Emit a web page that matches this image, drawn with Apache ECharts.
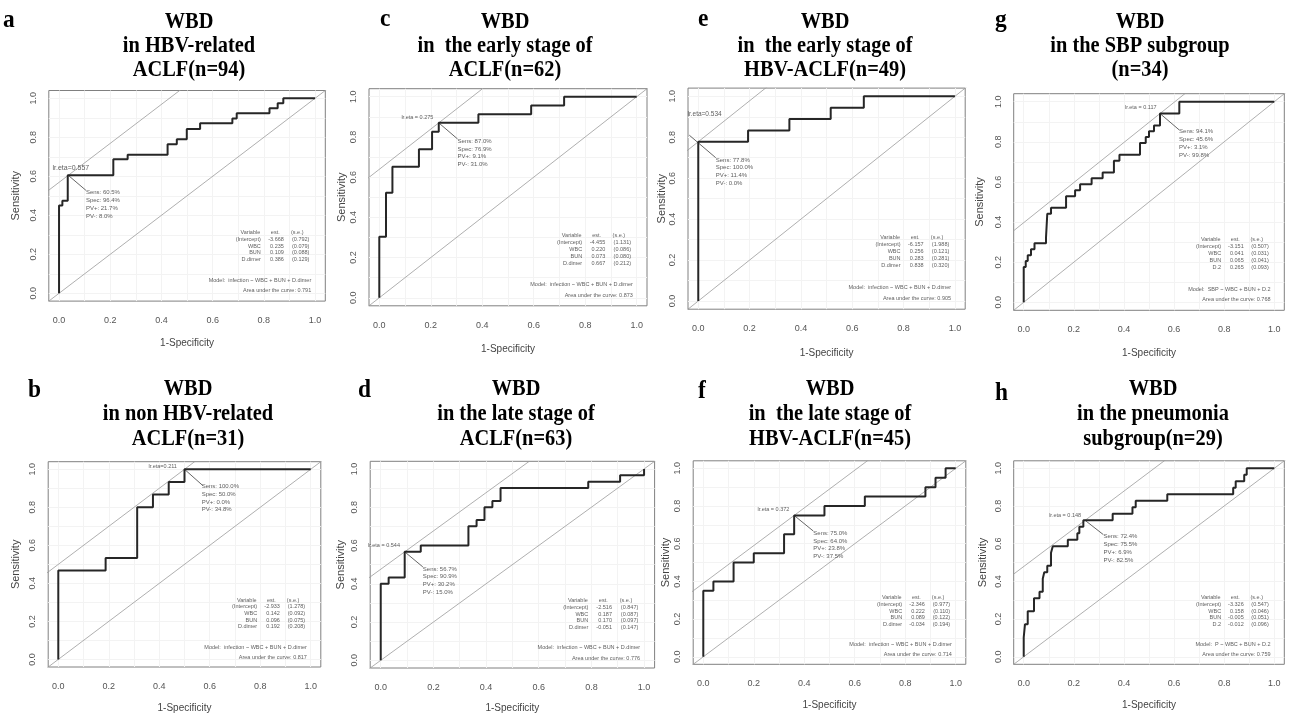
<!DOCTYPE html>
<html lang="en">
<head>
<meta charset="UTF-8">
<title>WBD ROC curves</title>
<style>
  body { margin: 0; background: #fff; }
  #chart { width: 1295px; height: 714px; }
</style>
</head>
<body>
<div id="chart"></div>
<script src="https://cdn.jsdelivr.net/npm/echarts@6/dist/echarts.min.js"></script>
<script>
// ---- data ----
const panelLetters = ['a', 'b', 'c', 'd', 'e', 'f', 'g', 'h'];
const titles = [
  ['WBD', 'in HBV-related', 'ACLF(n=94)'],
  ['WBD', 'in non HBV-related', 'ACLF(n=31)'],
  ['WBD', 'in  the early stage of', 'ACLF(n=62)'],
  ['WBD', 'in the late stage of', 'ACLF(n=63)'],
  ['WBD', 'in  the early stage of', 'HBV-ACLF(n=49)'],
  ['WBD', 'in  the late stage of', 'HBV-ACLF(n=45)'],
  ['WBD', 'in the SBP subgroup', '(n=34)'],
  ['WBD', 'in the pneumonia', 'subgroup(n=29)']
];
const tickVals = [0, 0.2, 0.4, 0.6, 0.8, 1.0];
const tickLabels = ['0.0', '0.2', '0.4', '0.6', '0.8', '1.0'];
const gridVals = [0, 0.1, 0.2, 0.3, 0.4, 0.5, 0.6, 0.7, 0.8, 0.9, 1.0];

// ROC corners: (1-specificity, sensitivity) at the top of each rise
const rocA_fpr = [0, 0, 0.013, 0.034, 0.212, 0.268, 0.424, 0.46, 0.499, 0.551, 0.677, 0.694, 0.822, 0.854, 0.876, 1.0];
const rocA_tpr = [0, 0.45, 0.475, 0.605, 0.687, 0.711, 0.764, 0.79, 0.843, 0.872, 0.897, 0.923, 0.949, 0.974, 1.0, 1.0];
const rocB_fpr = [0, 0, 0.1875, 0.3125, 0.375, 0.4375, 0.5, 1.0];
const rocB_tpr = [0, 0.467, 0.533, 0.8, 0.867, 0.933, 1.0, 1.0];
const rocC_fpr = [0, 0, 0.026, 0.051, 0.154, 0.205, 0.231, 0.385, 0.59, 0.718, 1.0];
const rocC_tpr = [0, 0.304, 0.522, 0.652, 0.739, 0.826, 0.870, 0.913, 0.957, 1.0, 1.0];
const rocD_fpr = [0, 0, 0.03, 0.091, 0.152, 0.333, 0.364, 0.394, 0.424, 0.455, 0.788, 0.909, 1.0];
const rocD_tpr = [0, 0.4, 0.433, 0.567, 0.6, 0.7, 0.733, 0.8, 0.833, 0.9, 0.933, 0.967, 1.0];
const rocE_fpr = [0, 0, 0.194, 0.355, 0.516, 0.645, 1.0];
const rocE_tpr = [0, 0.778, 0.833, 0.889, 0.944, 1.0, 1.0];
const rocF_fpr = [0, 0, 0.04, 0.12, 0.2, 0.32, 0.36, 0.48, 0.64, 0.88, 0.92, 0.96, 1.0];
const rocF_tpr = [0, 0.35, 0.4, 0.5, 0.55, 0.65, 0.75, 0.8, 0.85, 0.9, 0.95, 1.0, 1.0];
const rocG_fpr = [0, 0, 0.008, 0.016, 0.029, 0.043, 0.089, 0.094, 0.109, 0.169, 0.205, 0.225, 0.271, 0.315, 0.36, 0.382, 0.464, 0.487, 0.5, 0.52, 0.544, 0.621, 1.0];
const rocG_tpr = [0, 0.176, 0.206, 0.235, 0.265, 0.294, 0.324, 0.441, 0.471, 0.529, 0.559, 0.588, 0.618, 0.647, 0.706, 0.735, 0.794, 0.824, 0.853, 0.882, 0.941, 1.0, 1.0];
const rocH_fpr = [0, 0, 0.005, 0.016, 0.041, 0.063, 0.076, 0.082, 0.094, 0.109, 0.116, 0.176, 0.214, 0.222, 0.238, 0.355, 0.434, 0.447, 0.573, 0.836, 0.846, 0.88, 0.89, 1.0];
const rocH_tpr = [0, 0.103, 0.172, 0.241, 0.31, 0.345, 0.414, 0.448, 0.483, 0.552, 0.586, 0.621, 0.655, 0.69, 0.724, 0.759, 0.793, 0.828, 0.862, 0.897, 0.931, 0.966, 1.0, 1.0];

// optimal cut point
const cutFpr = [0.036, 0.5, 0.231, 0.091, 0, 0.36, 0.544, 0.245];
const cutTpr = [0.605, 1.0, 0.870, 0.567, 0.778, 0.75, 0.941, 0.724];
const lrEta = ['lr.eta=0.557', 'lr.eta=0.211', 'lr.eta = 0.275', 'lr.eta = 0.544', 'lr.eta=0.534', 'lr.eta = 0.372', 'lr.eta = 0.117', 'lr.eta = 0.148'];
const sens = ['60.5%', '100.0%', '87.0%', '56.7%', '77.8%', '75.0%', '94.1%', '72.4%'];
const spec = ['96.4%', '50.0%', '76.9%', '90.9%', '100.0%', '64.0%', '45.6%', '75.5%'];
const pvPos = ['21.7%', '0.0%', '9.1%', '30.2%', '11.4%', '23.8%', '3.1%', '6.9%'];
const pvNeg = ['8.0%', '34.8%', '31.0%', '15.0%', '0.0%', '37.5%', '99.8%', '82.5%'];

// logistic model tables
const varsDimer = ['(Intercept)', 'WBC', 'BUN', 'D.dimer'];
const varsD2 = ['(Intercept)', 'WBC', 'BUN', 'D.2'];
const estA = ['-3.668', '0.235', '0.109', '0.386'], seA = ['(0.792)', '(0.079)', '(0.088)', '(0.129)'];
const estB = ['-2.933', '0.142', '0.096', '0.192'], seB = ['(1.278)', '(0.092)', '(0.075)', '(0.208)'];
const estC = ['-4.455', '0.220', '0.073', '0.667'], seC = ['(1.131)', '(0.086)', '(0.080)', '(0.212)'];
const estD = ['-2.516', '0.187', '0.170', '-0.051'], seD = ['(0.847)', '(0.087)', '(0.097)', '(0.147)'];
const estE = ['-6.157', '0.256', '0.283', '0.838'], seE = ['(1.988)', '(0.121)', '(0.281)', '(0.320)'];
const estF = ['-2.346', '0.222', '0.089', '-0.034'], seF = ['(0.977)', '(0.110)', '(0.122)', '(0.194)'];
const estG = ['-3.151', '0.041', '0.065', '0.265'], seG = ['(0.507)', '(0.031)', '(0.041)', '(0.093)'];
const estH = ['-3.326', '0.158', '-0.005', '-0.012'], seH = ['(0.547)', '(0.046)', '(0.051)', '(0.096)'];
const models = ['infection ~ WBC + BUN + D.dimer', 'infection ~ WBC + BUN + D.dimer', 'infection ~ WBC + BUN + D.dimer',
  'infection ~ WBC + BUN + D.dimer', 'infection ~ WBC + BUN + D.dimer', 'infection ~ WBC + BUN + D.dimer',
  'SBP ~ WBC + BUN + D.2', 'P ~ WBC + BUN + D.2'];
const aucs = ['0.791', '0.817', '0.873', '0.776', '0.905', '0.714', '0.768', '0.759'];

// ---- layout (pixels) ----
const layout = [
  { left: 48.8, top: 90.5, width: 276.5, height: 210.6, tx: 189, row: 0, lx: 3, ly: 20, yGap: 27, xGap: 37, lrSize: 7 },
  { left: 48.2, top: 461.7, width: 272.6, height: 206.0, tx: 188, row: 1, lx: 28, ly: 390, yGap: 27, xGap: 36, lrSize: 5.5 },
  { left: 369.0, top: 88.7, width: 278.0, height: 217.1, tx: 505, row: 0, lx: 380, ly: 19, yGap: 22, xGap: 38, lrSize: 5.5 },
  { left: 370.2, top: 461.3, width: 284.4, height: 207.0, tx: 516, row: 1, lx: 358, ly: 390, yGap: 24, xGap: 35, lrSize: 5.5 },
  { left: 688.0, top: 88.1, width: 277.2, height: 221.1, tx: 825, row: 0, lx: 698, ly: 19, yGap: 20, xGap: 39, lrSize: 6.5 },
  { left: 693.2, top: 460.8, width: 272.6, height: 203.5, tx: 830, row: 1, lx: 698, ly: 391, yGap: 22, xGap: 36, lrSize: 5.5 },
  { left: 1013.7, top: 93.7, width: 270.6, height: 216.6, tx: 1140, row: 0, lx: 995, ly: 20, yGap: 28, xGap: 38, lrSize: 5.5 },
  { left: 1013.7, top: 460.8, width: 270.6, height: 203.5, tx: 1153, row: 1, lx: 995, ly: 393, yGap: 25, xGap: 36, lrSize: 5.5 }
];
// annotation anchors in data units
const lrPos = [[0.118, 0.641], [0.47, 1.014], [0.21, 0.897], [0.073, 0.598], [0.091, 0.912], [0.341, 0.779], [0.53, 0.972], [0.229, 0.749]];
const connFrom = [[0.036, 0.605], [0.5, 1.0], [0.231, 0.870], [0.091, 0.567], [-0.035, 0.81], [0.36, 0.75], [0.544, 0.941], [0.245, 0.724]];
const connTo = [[0.105, 0.528], [0.572, 0.915], [0.304, 0.790], [0.16, 0.488], [0.068, 0.70], [0.436, 0.667], [0.62, 0.86], [0.318, 0.648]];
const sensPos = [[0.105, 0.535], [0.568, 0.929], [0.304, 0.798], [0.16, 0.497], [0.068, 0.708], [0.436, 0.675], [0.62, 0.869], [0.318, 0.657]];
const tableRowsY = [0.312, 0.277, 0.242, 0.207, 0.172];
const titleRowY = [[21.5, 45.5, 69.5], [389, 414, 439]];

const rocs = [[rocA_fpr, rocA_tpr], [rocB_fpr, rocB_tpr], [rocC_fpr, rocC_tpr], [rocD_fpr, rocD_tpr],
  [rocE_fpr, rocE_tpr], [rocF_fpr, rocF_tpr], [rocG_fpr, rocG_tpr], [rocH_fpr, rocH_tpr]];
const ests = [estA, estB, estC, estD, estE, estF, estG, estH];
const ses = [seA, seB, seC, seD, seE, seF, seG, seH];
const varSets = [varsDimer, varsDimer, varsDimer, varsDimer, varsDimer, varsDimer, varsD2, varsD2];

const SANS = 'Liberation Sans';
const grids = [], xAxes = [], yAxes = [], series = [], graphics = [];

function txt(x, y, text, size, align, vAlign, extra) {
  return {
    value: [x, y],
    label: Object.assign({
      show: true, formatter: text, position: [0, 0], align: align, verticalAlign: vAlign,
      fontSize: size, fontFamily: SANS, color: '#333'
    }, extra || {})
  };
}

layout.forEach((L, i) => {
  grids.push({ left: L.left, top: L.top, width: L.width, height: L.height, show: true,
    borderColor: '#808080', borderWidth: 1, backgroundColor: 'transparent' });
  xAxes.push({
    type: 'value', gridIndex: i, min: -0.04, max: 1.04,
    axisLine: { show: false }, splitLine: { show: false },
    axisTick: { show: true, length: 3, lineStyle: { color: '#aaa' }, customValues: tickVals },
    axisLabel: { customValues: tickVals, formatter: v => tickLabels[Math.round(v * 5)], margin: 15,
      fontSize: 9, fontFamily: SANS, color: '#555' },
    name: '1-Specificity', nameLocation: 'middle', nameGap: L.xGap,
    nameTextStyle: { fontSize: 10, fontFamily: SANS, color: '#444' }
  });
  yAxes.push({
    type: 'value', gridIndex: i, min: -0.04, max: 1.04,
    axisLine: { show: false }, splitLine: { show: false },
    axisTick: { show: true, length: 3, lineStyle: { color: '#aaa' }, customValues: tickVals },
    axisLabel: { customValues: tickVals, formatter: v => tickLabels[Math.round(v * 5)], margin: 11, rotate: 90,
      fontSize: 9, fontFamily: SANS, color: '#555' },
    name: 'Sensitivity', nameLocation: 'middle', nameGap: L.yGap,
    nameTextStyle: { fontSize: 11, fontFamily: SANS, color: '#444' }
  });

  const base = { xAxisIndex: i, yAxisIndex: i, silent: true, animation: false };
  // chance diagonal + faint background grid
  series.push(Object.assign({
    type: 'line', data: [[-0.1, -0.1], [1.1, 1.1]], symbol: 'none', z: 2,
    lineStyle: { color: '#9a9a9a', width: 0.8 },
    markLine: { silent: true, z: 1, symbol: 'none', label: { show: false }, animation: false,
      lineStyle: { color: '#f3f3f3', width: 1, type: 'solid' },
      data: gridVals.map(v => ({ xAxis: v })).concat(gridVals.map(v => ({ yAxis: v }))) }
  }, base));
  // tangent through optimal point (slope 1)
  const b = cutTpr[i] - cutFpr[i];
  series.push(Object.assign({
    type: 'line', data: [[-0.1, -0.1 + b], [1.1, 1.1 + b]], symbol: 'none', z: 2,
    lineStyle: { color: '#9a9a9a', width: 0.8 }
  }, base));
  // ROC curve
  const [fx, ty] = rocs[i];
  series.push(Object.assign({
    type: 'line', step: 'end', data: fx.map((x, k) => [x, ty[k]]), symbol: 'none', z: 4,
    lineStyle: { color: '#262626', width: 2 }
  }, base));
  // connector to the Sens/Spec block
  series.push(Object.assign({
    type: 'line', data: [connFrom[i], connTo[i]], symbol: 'none', z: 3,
    lineStyle: { color: '#555', width: 0.9 }
  }, base));

  // texts
  const items = [];
  items.push(txt(lrPos[i][0], lrPos[i][1], lrEta[i], L.lrSize, 'right', 'middle'));
  items.push(txt(sensPos[i][0], sensPos[i][1],
    'Sens: ' + sens[i] + '\nSpec: ' + spec[i] + '\nPV+: ' + pvPos[i] + '\nPV-: ' + pvNeg[i],
    6, 'left', 'top', { lineHeight: 7.7 }));
  items.push(txt(0.786, tableRowsY[0], 'Variable', 5.5, 'right', 'middle'));
  items.push(txt(0.862, tableRowsY[0], 'est.', 5.5, 'right', 'middle'));
  items.push(txt(0.955, tableRowsY[0], '(s.e.)', 5.5, 'right', 'middle'));
  varSets[i].forEach((v, k) => {
    const y = tableRowsY[k + 1];
    items.push(txt(0.788, y, v, 5.5, 'right', 'middle'));
    items.push(txt(0.878, y, ests[i][k], 5.5, 'right', 'middle'));
    items.push(txt(0.978, y, ses[i][k], 5.5, 'right', 'middle'));
  });
  items.push(txt(0.985, 0.065, 'Model:  ' + models[i], 5.5, 'right', 'middle'));
  items.push(txt(0.985, 0.012, 'Area under the curve: ' + aucs[i], 5.5, 'right', 'middle'));
  series.push(Object.assign({
    type: 'scatter', data: items, symbolSize: 0.01, z: 6,
    itemStyle: { color: 'transparent' }
  }, base));

  // titles and panel letter
  titles[i].forEach((t, k) => {
    graphics.push({ type: 'text', x: L.tx, y: titleRowY[L.row][k], scaleX: 0.85, silent: true,
      style: { text: t, fontSize: 24, fontWeight: 'bold', fontFamily: 'Liberation Serif', fill: '#000',
        align: 'center', verticalAlign: 'middle', textAlign: 'center', textVerticalAlign: 'middle' } });
  });
  graphics.push({ type: 'text', x: L.lx, y: L.ly, scaleX: 0.9, silent: true,
    style: { text: panelLetters[i], fontSize: 26, fontWeight: 'bold', fontFamily: 'Liberation Serif', fill: '#000',
      align: 'left', verticalAlign: 'middle', textAlign: 'left', textVerticalAlign: 'middle' } });
});

const chart = echarts.init(document.getElementById('chart'));
chart.setOption({
  backgroundColor: '#ffffff',
  animation: false,
  grid: grids,
  xAxis: xAxes,
  yAxis: yAxes,
  series: series,
  graphic: graphics
});
</script>
</body>
</html>
